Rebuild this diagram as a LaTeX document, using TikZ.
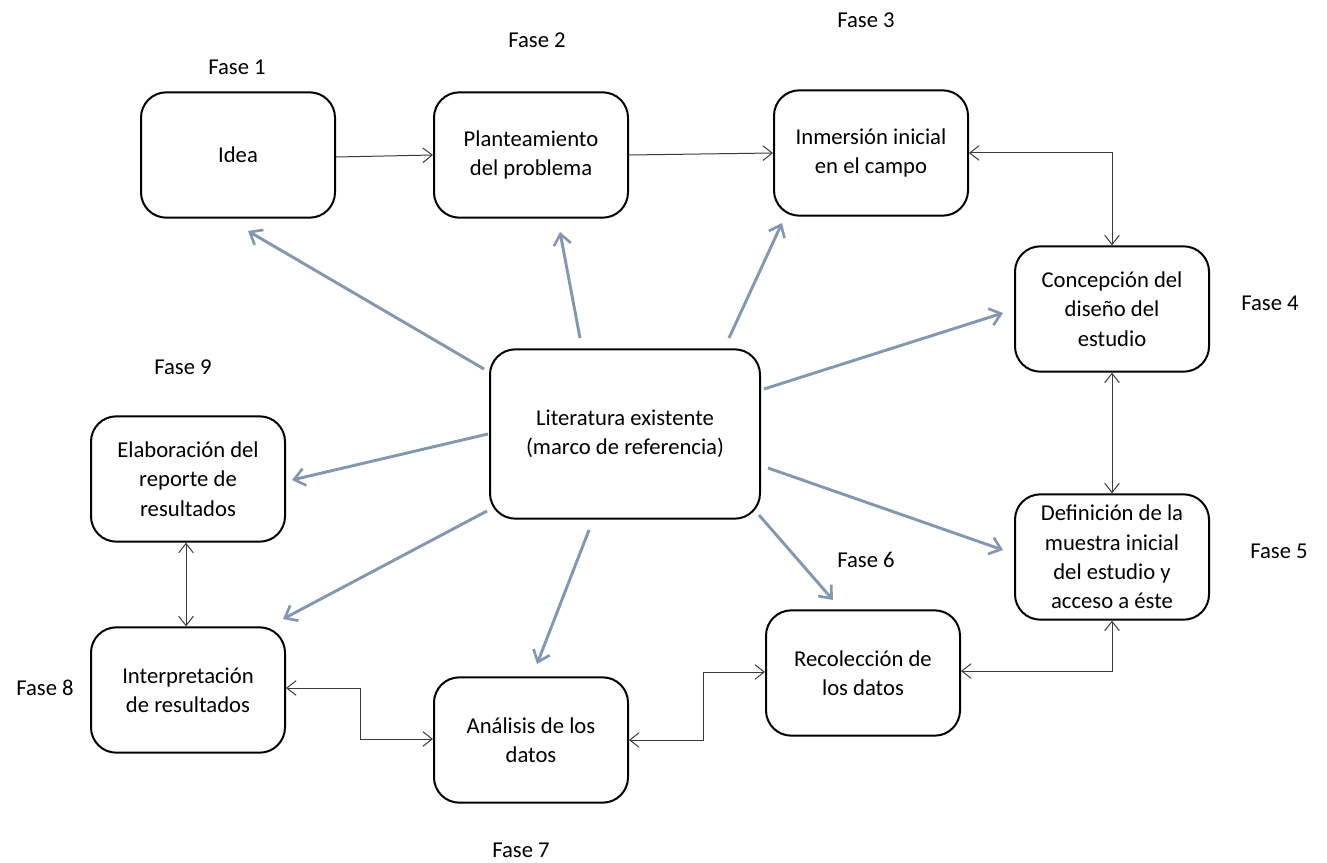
\documentclass[tikz,border=0pt]{standalone}
\usepackage{fontspec}
\setmainfont{Carlito}
\usetikzlibrary{arrows.meta}
\definecolor{linkgray}{HTML}{3A3A3A}
\definecolor{refblue}{HTML}{8497B0}
\tikzset{
  phase/.style={draw=black, line width=1.5pt, rounded corners=19pt, fill=white,
    minimum width=145.5pt, minimum height=94pt, align=center, inner sep=2pt,
    font=\fontsize{17}{22}\selectfont},
  centre/.style={phase, minimum width=202.5pt, minimum height=127pt},
  faselabel/.style={font=\fontsize{17}{20}\selectfont, inner sep=0pt},
  link/.style={draw=linkgray, line width=0.75pt,
    {Straight Barb[length=7pt,width=11pt,line width=0.75pt]}-{Straight Barb[length=7pt,width=11pt,line width=0.75pt]}},
  linkone/.style={draw=linkgray, line width=0.75pt,
    -{Straight Barb[length=7pt,width=11pt,line width=0.75pt]}},
  ray/.style={draw=refblue, line width=2.2pt,
    -{Straight Barb[length=8pt,width=13pt,line width=2pt]}}
}
\begin{document}
\begin{tikzpicture}[x=0.75pt,y=-0.75pt]
\useasboundingbox (0,0) rectangle (1327,863);

% phase boxes
\node[phase] (idea) at (238,155) {Idea};
\node[phase] (plan) at (531,155) {Planteamiento\\del problema};
\node[phase] (inm)  at (871,153) {Inmersión inicial\\en el campo};
\node[phase] (conc) at (1112,309) {Concepción del\\diseño del\\estudio};
\node[phase] (def)  at (1112,557) {Definición de la\\muestra inicial\\del estudio y\\acceso a éste};
\node[phase] (rec)  at (863,673) {Recolección de\\los datos};
\node[phase] (ana)  at (531,740) {Análisis de los\\datos};
\node[phase] (int)  at (188,690) {Interpretación\\de resultados};
\node[phase] (ela)  at (188,479) {Elaboración del\\reporte de\\resultados};
\node[centre] (lit) at (625,434) {Literatura existente\\(marco de referencia)};

% phase labels
\node[faselabel] (f1) at (237,67)  {Fase 1};
\node[faselabel] (f2) at (537,40)  {Fase 2};
\node[faselabel] (f3) at (866,20)  {Fase 3};
\node[faselabel] (f4) at (1270,303) {Fase 4};
\node[faselabel] (f5) at (1279,551) {Fase 5};
\node[faselabel] (f6) at (866,560) {Fase 6};
\node[faselabel] (f7) at (521,850) {Fase 7};
\node[faselabel] (f8) at (45,688)  {Fase 8};
\node[faselabel] (f9) at (183,367) {Fase 9};

% sequence links between phases
\draw[linkone] (idea.east |- 0,157) -- (plan.west |- 0,155);
\draw[linkone] (plan.east |- 0,155) -- (inm.west |- 0,153);
\draw[link] (inm.east |- 0,153) -| (conc.north);
\draw[link] (conc.south) -- (def.north);
\draw[link] (def.south) |- (rec.east |- 0,671);
\draw[link] (rec.west |- 0,672) -- (703,672) |- (ana.east |- 0,740);
\draw[link] (ana.west |- 0,739) -- (360,739) |- (int.east |- 0,688);
\draw[link] (ela.south -| 186,0) -- (int.north -| 186,0);

% rays from the literature box
\coordinate (r1a) at (484,369); \coordinate (r1b) at (248,231);
\coordinate (r2a) at (580,338); \coordinate (r2b) at (560,232);
\coordinate (r3a) at (729,338); \coordinate (r3b) at (782,223);
\coordinate (r4a) at (764,389); \coordinate (r4b) at (1003,313);
\coordinate (r5a) at (768,468); \coordinate (r5b) at (1003,550);
\coordinate (r6a) at (759,515); \coordinate (r6b) at (833,600);
\coordinate (r7a) at (589,530); \coordinate (r7b) at (537,664);
\coordinate (r8a) at (487,511); \coordinate (r8b) at (283,619);
\coordinate (r9a) at (488,434); \coordinate (r9b) at (292,480);
\foreach \i in {1,...,9} { \draw[ray] (r\i a) -- (r\i b); }
\end{tikzpicture}
\end{document}
